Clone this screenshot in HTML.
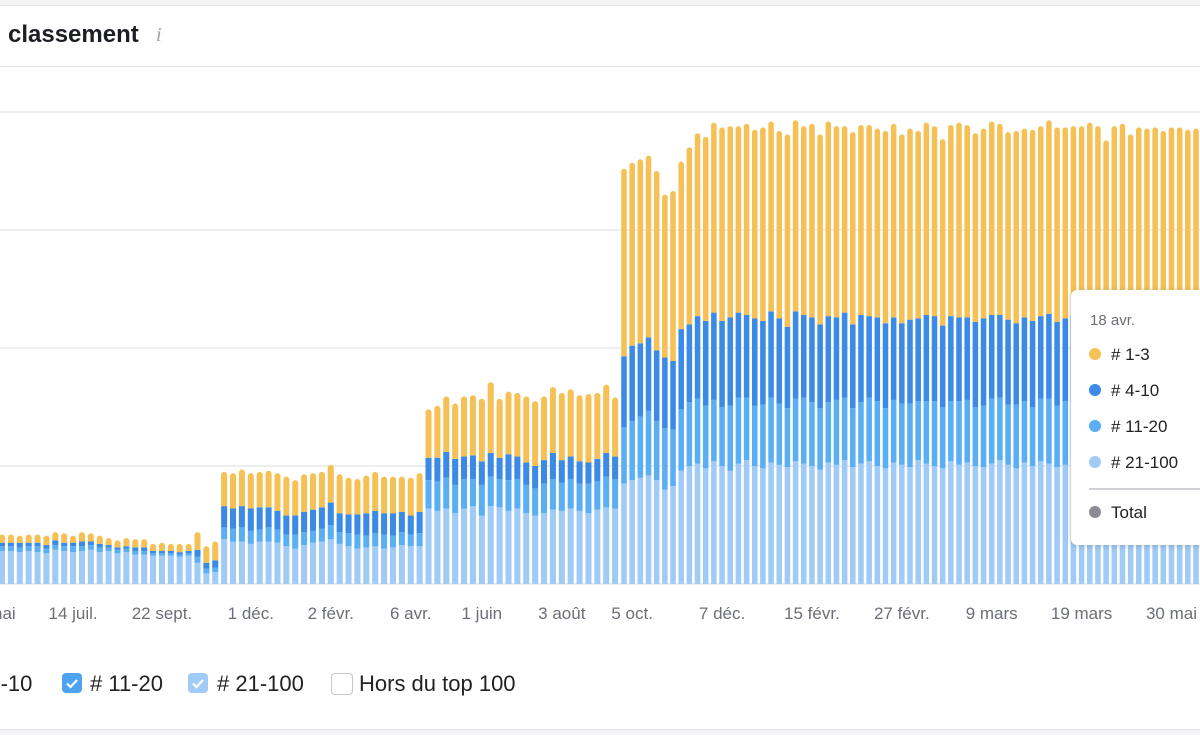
<!DOCTYPE html>
<html><head><meta charset="utf-8"><style>
html,body{margin:0;padding:0;background:#fff;}
body{width:1200px;height:734px;position:relative;overflow:hidden;font-family:"Liberation Sans",sans-serif;}
#tip{position:absolute;left:1071px;top:290px;width:150px;height:255px;background:#fff;border-radius:6px;box-shadow:0 1px 6px rgba(0,0,0,0.18);}
#tip .d{position:absolute;left:19px;top:22px;font-size:15px;color:#6c6e79;}
#tip .r{position:absolute;left:18px;font-size:17px;color:#222;}
#tip .r i{display:inline-block;width:12px;height:12px;border-radius:6px;margin-right:10px;vertical-align:0px;}
.cb{position:absolute;top:673px;width:20px;height:20px;border-radius:4px;}
.lt{position:absolute;top:672px;font-size:22px;color:#222;line-height:24px;}
</style></head><body>
<div style="position:absolute;left:0;top:0;width:1200px;height:5px;background:#f4f4f7;border-bottom:1px solid #e4e4e8"></div>
<div style="position:absolute;left:8px;top:21px;font-size:24px;font-weight:bold;color:#1d1e24">classement</div>
<div style="position:absolute;left:156px;top:24px;font-size:20px;font-style:italic;color:#a0a0a6;font-family:'Liberation Serif',serif">i</div>
<div style="position:absolute;left:0;top:66px;width:1200px;height:1px;background:#e4e4e8"></div>
<svg id="chart" width="1200" height="734" style="position:absolute;left:0;top:0"></svg>
<div id="tip">
<div class="d">18 avr.</div>
<div class="r" style="top:55px"><i style="background:#f5c156"></i># 1-3</div>
<div class="r" style="top:91px"><i style="background:#3b8ae6"></i># 4-10</div>
<div class="r" style="top:127px"><i style="background:#5aaef3"></i># 11-20</div>
<div class="r" style="top:163px"><i style="background:#9fcbf6"></i># 21-100</div>
<div style="position:absolute;left:18px;top:198px;width:140px;height:2px;background:#d0d0d4"></div>
<div class="r" style="top:213px"><i style="background:#8b8b92"></i>Total</div>
</div>
<div class="lt" style="left:-30px"># 4-10</div>
<div class="cb" style="left:62px;background:#4da3f0"><svg width="20" height="20"><path d="M5 10.5l3.5 3.5 6.5-7" stroke="#fff" stroke-width="2.2" fill="none"/></svg></div>
<div class="lt" style="left:90px"># 11-20</div>
<div class="cb" style="left:188px;background:#9fcbf6"><svg width="20" height="20"><path d="M5 10.5l3.5 3.5 6.5-7" stroke="#fff" stroke-width="2.2" fill="none"/></svg></div>
<div class="lt" style="left:217px"># 21-100</div>
<div class="cb" style="left:331px;border:1px solid #c8c8cc;width:22px;height:22px;box-sizing:border-box"></div>
<div class="lt" style="left:359px">Hors du top 100</div>
<div style="position:absolute;left:0;top:729px;width:1200px;height:5px;background:#f4f4f7;border-top:1px solid #e4e4e8"></div>
<script>
const top3 = [7,7,6,7,7,8,7,8,6,8,7,7,6,6,7,7,7,6,7,6,7,6,
15,14,16,
29,30,31,30,30,31,32,33,30,32,31,30,32,33,31,30,32,33,31,31,30,32,33,
41,44,47,47,51,51,53,60,50,53,54,56,55,54,56,57,57,56,58,56,58,50,
159,155,156,154,152,138,144,
142,150,155,156,161,164,162,158,162,160,164,161,159,163,162,160,164,161,165,162,158,163,161,162,160,163,164,160,162,159,163,161,158,162,165,163,160,161,164,162,159,163,160,162,161,164,165,162,160,163,161,160,158,162,161,160,163,162,159,161,160,162,161,160];
const top10 = [3,3,4,3,3,3,4,3,3,4,3,3,2,2,2,3,3,2,2,2,2,2,
6,5,6,
18,17,18,19,19,17,16,16,16,17,18,18,19,16,16,17,19,19,18,19,17,16,18,
19,20,22,22,19,20,20,20,18,22,19,19,19,20,22,19,19,19,18,19,20,19,
60,64,62,62,60,60,58,
68,66,70,72,74,73,75,72,70,74,71,73,72,69,74,70,72,71,73,70,72,71,74,69,71,72,70,68,71,70,73,72,69,72,71,70,72,74,71,70,72,69,71,73,70,72,71,70,74,72,73,71,70,72,71,69,70,72,71,70,73,71,70,72];
const top20 = [4,4,4,4,5,4,4,4,5,4,4,4,3,3,3,3,3,2,2,2,2,2,
5,4,4,
10,11,12,11,10,12,11,10,12,11,10,11,12,10,11,12,10,11,12,10,11,10,11,
24,25,26,24,25,23,26,25,24,26,25,24,23,25,26,24,25,23,25,24,26,25,
48,50,52,55,50,52,48,
52,54,55,53,52,50,55,56,53,51,54,55,52,50,53,56,54,52,51,55,53,50,52,54,55,51,53,52,54,50,53,55,52,51,54,53,50,52,55,53,51,54,52,50,53,55,52,54,51,53,52,55,50,53,54,52,51,53,55,52,54,51,53,52];
const top100 = [28,28,27,28,27,26,29,28,27,28,29,27,28,26,27,25,25,24,24,24,23,24,
18,9,10,
38,36,36,34,36,36,35,32,30,33,35,36,38,34,32,30,31,32,30,31,33,32,32,
64,62,64,60,64,66,58,66,65,62,64,60,58,60,63,62,64,62,60,63,65,64,
85,88,90,92,88,80,83,
96,100,102,98,104,100,96,102,105,100,98,103,101,99,104,102,100,97,103,101,105,99,102,104,100,98,103,101,99,105,102,100,98,104,101,103,100,99,102,105,101,98,103,100,104,102,99,101,103,100,105,102,98,101,104,100,103,99,102,101,100,103,101,102];
const tickLabels = ["mai","14 juil.","22 sept.","1 déc.","2 févr.","6 avr.","1 juin","3 août","5 oct.","7 déc.","15 févr.","27 févr.","9 mars","19 mars","30 mai"];
const tickIdx = [0,8,18,28,37,46,54,63,71,82,93,104,115,126,137];
const yTicks = [0,100,200,300,400];

const NS="http://www.w3.org/2000/svg";
const svg=document.getElementById('chart');
const N=top3.length;
function x(i){ return i<=70 ? 2+i*(622/70) : 624+(i-70)*((1196-624)/(N-1-70)); }
function y(v){ return 584 - v*1.18; }
function pitch(i){ return i<70 ? 8.9 : 8.15; }
yTicks.forEach(t=>{
  const l=document.createElementNS(NS,'line');
  
  
  l.setAttribute('x1',0);l.setAttribute('x2',1200);l.setAttribute('y1',y(t));l.setAttribute('y2',y(t));
  l.setAttribute('stroke','#e4e4e8');l.setAttribute('stroke-width',1.2);
  svg.appendChild(l);
});
const series=[[top100,'#9fcbf6','bar-21-100'],[top20,'#5aaef3','bar-11-20'],[top10,'#3b8ae6','bar-4-10'],[top3,'#f5c156','bar-1-3']];
for(let i=0;i<N;i++){
  let base=0; const w=pitch(i)*0.68; const cx=x(i);
  series.forEach((s,k)=>{
    const v=s[0][i]; const y0=y(base), y1=y(base+v);
    let el;
    if(k===3){
      el=document.createElementNS(NS,'path');
      const r=Math.min(w/2,(y0-y1));
      el.setAttribute('d',`M${cx-w/2},${y0}V${y1+r}A${r},${r} 0 0 1 ${cx+w/2},${y1+r}V${y0}Z`);
    } else {
      el=document.createElementNS(NS,'rect');
      el.setAttribute('x',cx-w/2);el.setAttribute('y',y1);el.setAttribute('width',w);el.setAttribute('height',y0-y1);
    }
    el.setAttribute('fill',s[1]);
    
    
    svg.appendChild(el);
    base+=v;
  });
}
tickLabels.forEach((t,j)=>{
  const tx=document.createElementNS(NS,'text');
  
  
  tx.setAttribute('x',x(tickIdx[j]));tx.setAttribute('y',619);
  tx.setAttribute('text-anchor','middle');tx.setAttribute('font-size','17');tx.setAttribute('fill','#6c6e79');
  tx.setAttribute('font-family','Liberation Sans, sans-serif');
  tx.textContent=t; svg.appendChild(tx);
});
</script>
</body></html>
